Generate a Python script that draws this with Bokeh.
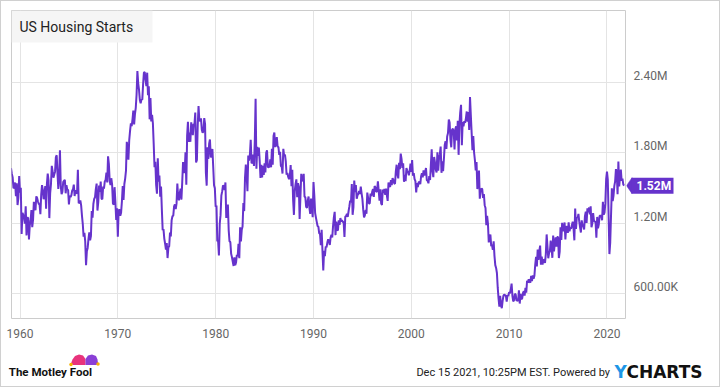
from bokeh.plotting import figure
from bokeh.layouts import column, row
from bokeh.models import Range1d, FixedTicker, Label, BoxAnnotation, Spacer
from bokeh.embed import file_html
from bokeh.resources import INLINE
from bokeh.core.properties import value

# Monthly US housing starts (thousands of units, SAAR), Jan 1959 - Oct 2021
starts_1959_1969 = [
    1657, 1667, 1620, 1590, 1498, 1503, 1547, 1430, 1540, 1355, 1416, 1601,
    1460, 1503, 1109, 1289, 1271, 1247, 1197, 1344, 1097, 1246, 1246, 1063,
    1183, 1226, 1312, 1166, 1228, 1382, 1335, 1312, 1429, 1415, 1385, 1365,
    1361, 1278, 1443, 1524, 1483, 1404, 1450, 1517, 1324, 1533, 1622, 1564,
    1244, 1456, 1534, 1689, 1641, 1588, 1614, 1639, 1763, 1779, 1622, 1491,
    1603, 1820, 1517, 1448, 1467, 1550, 1562, 1569, 1455, 1524, 1486, 1484,
    1361, 1433, 1423, 1438, 1478, 1488, 1529, 1432, 1482, 1452, 1460, 1656,
    1370, 1378, 1394, 1352, 1265, 1194, 1086, 1119, 1046, 843, 961, 990,
    1067, 1123, 1056, 1091, 1304, 1248, 1364, 1407, 1421, 1491, 1538, 1308,
    1380, 1520, 1466, 1554, 1408, 1405, 1512, 1495, 1556, 1569, 1630, 1548,
    1769, 1705, 1561, 1524, 1583, 1528, 1368, 1358, 1507, 1381, 1229, 1327,
]
starts_1970s = [
    1085, 1305, 1319, 1264, 1290, 1385, 1517, 1399, 1534, 1580, 1647, 1893,
    1828, 1741, 1910, 1986, 2049, 2026, 2083, 2158, 2041, 2128, 2182, 2295,
    2494, 2390, 2334, 2249, 2221, 2254, 2252, 2382, 2481, 2485, 2421, 2366,
    2481, 2289, 2365, 2084, 2266, 2067, 2123, 2051, 1874, 1677, 1724, 1526,
    1451, 1752, 1555, 1607, 1426, 1513, 1316, 1142, 1150, 1070, 1026, 975,
    1032, 904, 993, 1005, 1121, 1087, 1226, 1260, 1264, 1344, 1360, 1321,
    1367, 1538, 1421, 1395, 1459, 1495, 1401, 1550, 1720, 1629, 1641, 1804,
    1527, 1943, 2063, 1892, 1971, 1893, 2058, 2020, 1949, 2042, 2042, 2142,
    1718, 1738, 2032, 2197, 2075, 2070, 2092, 1996, 1970, 1981, 2094, 2044,
    1630, 1520, 1847, 1748, 1876, 1913, 1760, 1778, 1832, 1681, 1524, 1498,
]
starts_1980s = [
    1341, 1350, 1047, 1051, 927, 1196, 1269, 1436, 1471, 1523, 1510, 1482,
    1547, 1246, 1306, 1360, 1140, 1045, 1041, 940, 911, 873, 837, 910,
    843, 866, 931, 917, 1025, 902, 1166, 1046, 1144, 1173, 1372, 1303,
    1586, 1699, 1606, 1472, 1776, 1733, 1785, 1910, 1710, 1715, 1785, 1688,
    1897, 2260, 1663, 1851, 1774, 1843, 1732, 1586, 1698, 1590, 1689, 1612,
    1711, 1632, 1800, 1821, 1680, 1676, 1684, 1743, 1676, 1834, 1698, 1942,
    1972, 1848, 1876, 1933, 1854, 1847, 1782, 1807, 1687, 1681, 1623, 1833,
    1774, 1784, 1726, 1614, 1628, 1594, 1575, 1605, 1695, 1515, 1656, 1400,
    1271, 1473, 1532, 1573, 1421, 1541, 1509, 1236, 1428, 1620, 1560, 1564,
    1621, 1425, 1422, 1339, 1331, 1397, 1427, 1332, 1279, 1410, 1351, 1251,
]
starts_1990s = [
    1551, 1437, 1289, 1248, 1212, 1177, 1171, 1115, 1110, 1014, 1145, 969,
    798, 965, 921, 1001, 996, 1036, 1063, 1049, 1015, 1079, 1103, 1079,
    1176, 1250, 1297, 1099, 1214, 1145, 1139, 1226, 1186, 1244, 1214, 1227,
    1210, 1210, 1083, 1258, 1260, 1280, 1254, 1300, 1343, 1392, 1376, 1533,
    1272, 1337, 1564, 1465, 1526, 1409, 1439, 1450, 1474, 1450, 1511, 1455,
    1407, 1316, 1249, 1267, 1314, 1281, 1461, 1416, 1369, 1369, 1452, 1431,
    1467, 1491, 1424, 1516, 1504, 1467, 1472, 1557, 1475, 1392, 1489, 1370,
    1355, 1486, 1457, 1492, 1442, 1494, 1437, 1390, 1546, 1520, 1510, 1566,
    1525, 1584, 1567, 1540, 1536, 1641, 1698, 1614, 1582, 1715, 1660, 1792,
    1748, 1670, 1710, 1553, 1611, 1559, 1669, 1648, 1635, 1608, 1648, 1708,
]
starts_2000s = [
    1636, 1737, 1604, 1626, 1575, 1559, 1463, 1541, 1507, 1549, 1551, 1532,
    1600, 1625, 1590, 1649, 1605, 1636, 1670, 1567, 1562, 1540, 1602, 1568,
    1698, 1829, 1642, 1592, 1764, 1717, 1655, 1633, 1804, 1648, 1753, 1788,
    1853, 1629, 1726, 1643, 1751, 1867, 1897, 1833, 1939, 1967, 2083, 2057,
    1911, 1846, 1998, 2003, 1981, 1828, 2002, 2024, 1905, 2072, 1782, 2042,
    2144, 2207, 1864, 2061, 2025, 2068, 2054, 2095, 2151, 2065, 2147, 1994,
    2273, 2119, 1969, 1821, 1942, 1802, 1737, 1650, 1720, 1491, 1570, 1649,
    1409, 1480, 1495, 1490, 1415, 1448, 1354, 1330, 1183, 1264, 1197, 1037,
    1084, 1103, 1005, 1013, 973, 1046, 923, 844, 820, 777, 652, 560,
    490, 582, 505, 478, 540, 585, 594, 586, 585, 534, 588, 581,
]
starts_2010s = [
    614, 604, 636, 687, 583, 536, 546, 599, 594, 543, 545, 539,
    630, 517, 600, 554, 561, 608, 623, 585, 650, 610, 711, 694,
    723, 704, 695, 753, 708, 757, 728, 754, 847, 915, 833, 976,
    888, 962, 1010, 847, 917, 848, 893, 883, 863, 938, 1105, 1003,
    902, 948, 963, 1052, 991, 906, 1095, 961, 1026, 1081, 1001, 1083,
    1083, 904, 959, 1165, 1059, 1204, 1150, 1133, 1207, 1063, 1177, 1158,
    1118, 1208, 1131, 1162, 1154, 1186, 1214, 1156, 1055, 1326, 1151, 1251,
    1244, 1279, 1216, 1166, 1121, 1225, 1183, 1174, 1148, 1261, 1299, 1202,
    1327, 1293, 1334, 1275, 1344, 1166, 1198, 1287, 1224, 1213, 1214, 1077,
    1254, 1158, 1192, 1264, 1265, 1265, 1225, 1382, 1274, 1291, 1369, 1575,
]
starts_2020s = [
    1640, 1571, 1266, 938, 1038, 1272, 1497, 1389, 1433, 1516, 1557, 1661,
    1625, 1447, 1725, 1514, 1594, 1657, 1562, 1580, 1530, 1520,
]

x_ticks = [1960, 1970, 1980, 1990, 2000, 2010, 2020]
y_ticks = [600000, 1200000, 1800000, 2400000]
y_tick_labels = ["600.00K", "1.20M", "1.80M", "2.40M"]
title_text = "US Housing Starts"
last_label = "1.52M"
footer_left = "The Motley Fool"
footer_right = "Dec 15 2021, 10:25PM EST.  Powered by"

starts_k = (starts_1959_1969 + starts_1970s + starts_1980s + starts_1990s
            + starts_2000s + starts_2010s + starts_2020s)
dates = [1959 + i / 12.0 for i in range(len(starts_k))]
starts = [v * 1000 for v in starts_k]

PURPLE = "#6633CC"
FONT = "Roboto"
GRID = "#e4e4e4"
EDGE = "#d0d0d0"

# layout geometry (pixels); 1px outer edge around everything
TOTAL_W, TOTAL_H = 720, 387
IN_W, IN_H = TOTAL_W - 2, TOTAL_H - 2
MAIN_W, MAIN_H = 625, 343
SIDE_W = IN_W - MAIN_W
FOOT_H = IN_H - MAIN_H
BL, BR, BT, BB = 10, 1, 9, 26
FW, FH = MAIN_W - BL - BR, MAIN_H - BT - BB

X0, X1 = 1959.131, 2021.894
Y0, Y1 = 389900, 3009900
yr = Range1d(Y0, Y1)

p = figure(width=MAIN_W, height=MAIN_H, output_backend="svg", toolbar_location=None,
           x_range=Range1d(X0, X1), y_range=yr, y_axis_location=None,
           min_border_left=BL, min_border_right=BR, min_border_top=BT, min_border_bottom=BB)
p.background_fill_color = "white"
p.border_fill_color = "white"
p.outline_line_color = "#cccccc"
p.outline_line_width = 1

p.xgrid.ticker = FixedTicker(ticks=x_ticks)
p.ygrid.ticker = FixedTicker(ticks=y_ticks)
p.xgrid.grid_line_color = GRID
p.ygrid.grid_line_color = GRID

ax = p.xaxis[0]
ax.ticker = FixedTicker(ticks=x_ticks)
ax.major_label_overrides = {t: str(t) for t in x_ticks}
ax.axis_line_color = None
ax.major_tick_line_color = None
ax.minor_tick_line_color = None
ax.major_tick_out = 0
ax.major_tick_in = 0
ax.major_label_text_font = FONT
ax.major_label_text_font_size = "12px"
ax.major_label_text_color = "#666666"
ax.major_label_standoff = 10

p.line(dates, starts, line_color=PURPLE, line_width=2)

# title box in the top-left corner of the frame
p.add_layout(BoxAnnotation(left=0, right=141, top=FH, bottom=FH - 32,
                           left_units="screen", right_units="screen",
                           top_units="screen", bottom_units="screen",
                           fill_color="#f5f5f5", fill_alpha=1, line_color=None))
p.add_layout(Label(x=8, y=FH - 16.5, x_units="screen", y_units="screen", text=title_text,
                   text_font=FONT, text_font_size="14px", text_color="#222222",
                   text_align="left", text_baseline="middle"))

# right side: value axis labels and last-value marker
s = figure(width=SIDE_W, height=MAIN_H, output_backend="svg", toolbar_location=None,
           x_range=Range1d(0, SIDE_W), y_range=yr,
           x_axis_location=None, y_axis_location=None,
           min_border_left=0, min_border_right=0, min_border_top=BT, min_border_bottom=BB)
s.grid.visible = False
s.outline_line_color = None
s.background_fill_color = "white"
s.border_fill_color = "white"
s.text(x=[7] * len(y_ticks), y=y_ticks, text=y_tick_labels, y_offset=-6.5,
       text_font=value(FONT), text_font_size="12px", text_color="#666666",
       text_align="left", text_baseline="middle")

last_val = starts[-1]
half = 8.0 * (Y1 - Y0) / FH
s.patch([0, 5.5, 5.5], [last_val, last_val + half, last_val - half],
        fill_color=PURPLE, line_color=PURPLE, line_width=0.5)
s.quad(left=[5], right=[47], top=[last_val + half], bottom=[last_val - half],
       fill_color=PURPLE, line_color=None)
s.text(x=[10], y=[last_val], text=[last_label], text_font=value(FONT),
       text_font_size="12px", text_font_style="bold", text_color="white",
       text_align="left", text_baseline="middle")

# footer
f = figure(width=IN_W, height=FOOT_H, output_backend="svg", toolbar_location=None,
           x_range=Range1d(0, IN_W), y_range=Range1d(0, FOOT_H),
           x_axis_location=None, y_axis_location=None,
           min_border_left=0, min_border_right=0, min_border_top=0, min_border_bottom=0)
f.grid.visible = False
f.outline_line_color = None
f.background_fill_color = "white"
f.border_fill_color = "white"

# jester hat of the logo
f.patch([69.5, 71, 73.5, 77.5, 81.5, 84, 84, 71.5],
        [23, 27, 30.5, 32, 31, 27.5, 21.5, 21.5],
        fill_color="#e8337c", line_color=None)
f.patch([84, 86.5, 90.5, 94.5, 96, 96.5, 95, 84],
        [27.5, 31, 32, 30.5, 27, 23.5, 21.5, 21.5],
        fill_color="#8a3fd6", line_color=None)
f.scatter([69.5, 96.5], [22, 22.5], size=3.5, fill_color="#f5b400", line_color=None)

f.add_layout(Label(x=7.3, y=14.7, x_units="screen", y_units="screen", text=footer_left,
                   text_font=FONT, text_font_size="11.5px", text_font_style="bold",
                   text_color="#111111", text_align="left", text_baseline="middle"))
f.add_layout(Label(x=611.3, y=14.5, x_units="screen", y_units="screen", text=footer_right,
                   text_font=FONT, text_font_size="11px", text_color="#222222",
                   text_align="right", text_baseline="middle"))
f.add_layout(Label(x=613, y=14.3, x_units="screen", y_units="screen", text="Y",
                   text_font="DejaVu Sans", text_font_size="17px", text_font_style="bold",
                   text_color="#1e96e6", text_align="left", text_baseline="middle"))
f.add_layout(Label(x=625, y=14.3, x_units="screen", y_units="screen", text="CHARTS",
                   text_font="DejaVu Sans", text_font_size="17px", text_font_style="bold",
                   text_color="#111111", text_align="left", text_baseline="middle"))

edge_style = {"background-color": EDGE}
inner = column(row(p, s, spacing=0), f, spacing=0)
layout = column(
    Spacer(width=TOTAL_W, height=1, styles=edge_style),
    row(Spacer(width=1, height=IN_H, styles=edge_style), inner,
        Spacer(width=1, height=IN_H, styles=edge_style), spacing=0),
    Spacer(width=TOTAL_W, height=1, styles=edge_style),
    spacing=0,
)

open("out.html", "w").write(file_html(layout, INLINE))
